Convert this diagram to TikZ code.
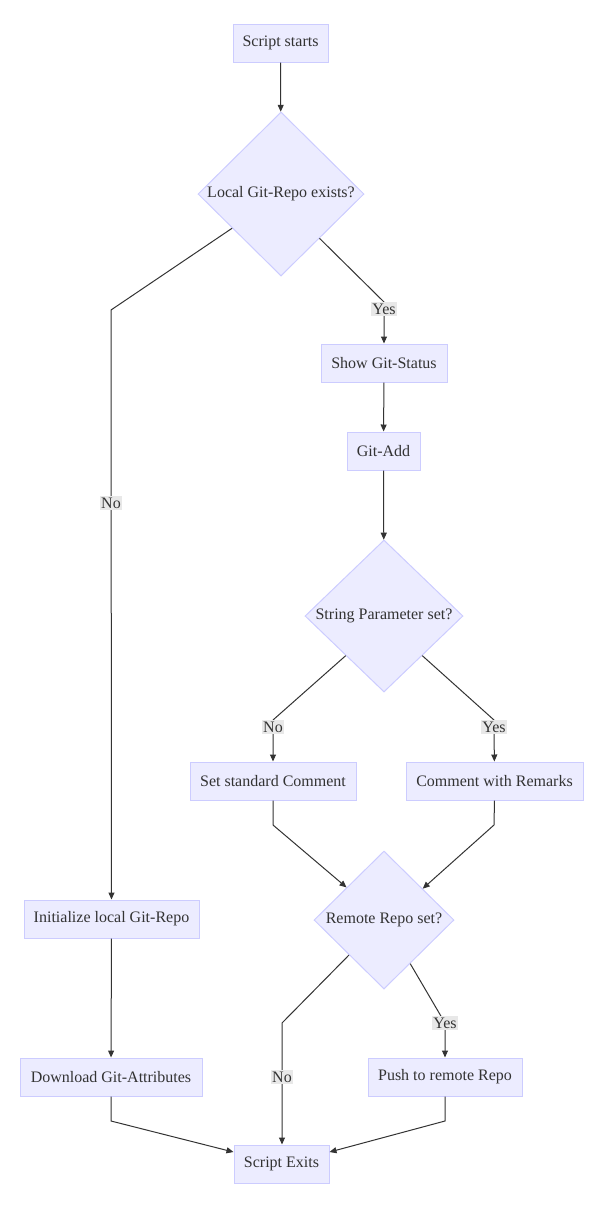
\documentclass[tikz,border=0pt]{standalone}
\usepackage{fontspec}
\setmainfont{Liberation Serif}
\usetikzlibrary{shapes.geometric,arrows.meta}
\definecolor{nodefill}{HTML}{ECECFF}
\definecolor{nodeline}{HTML}{CCCCFF}
\definecolor{txt}{HTML}{333333}
\definecolor{lblbg}{HTML}{E8E8E8}
\tikzset{
  box/.style={draw=nodeline, fill=nodefill, line width=1pt, rectangle, inner sep=0pt,
    minimum height=38pt, text=txt, font=\fontsize{16}{19}\selectfont},
  dia/.style={draw=nodeline, fill=nodefill, line width=1pt, diamond, inner sep=0pt,
    text=txt, font=\fontsize{16}{19}\selectfont},
  lbl/.style={fill=lblbg, inner sep=1.5pt, text=txt, font=\fontsize{16}{19}\selectfont},
  conn/.style={draw=txt, line width=1pt, -{Triangle[length=7pt,width=6pt]}},
  plain/.style={draw=txt, line width=1pt}
}
\begin{document}
\begin{tikzpicture}[x=1pt,y=-1pt]
\useasboundingbox (0,0) rectangle (611,1211);
% nodes
\node[box, minimum width=95pt] (start) at (280.5,43) {Script starts};
\node[dia, minimum width=166pt, minimum height=164pt] (d1) at (281,194) {Local Git-Repo exists?};
\node[box, minimum width=126pt] (show) at (384,363) {Show Git-Status};
\node[box, minimum width=73pt] (add) at (383.5,451) {Git-Add};
\node[dia, minimum width=158pt, minimum height=152pt] (d2) at (384,616) {String Parameter set?};
\node[box, minimum width=166pt] (setc) at (273,781) {Set standard Comment};
\node[box, minimum width=177pt] (rem) at (494.5,781) {Comment with Remarks};
\node[dia, minimum width=140pt, minimum height=138pt] (d3) at (384,920) {Remote Repo set?};
\node[box, minimum width=154pt] (push) at (445,1077) {Push to remote Repo};
\node[box, minimum width=175pt] (init) at (111.5,919) {Initialize local Git-Repo};
\node[box, minimum width=182pt] (dl) at (111,1077) {Download Git-Attributes};
\node[box, minimum width=95pt] (exit) at (281.5,1164) {Script Exits};
% bend points
\coordinate (b1no) at (111,310);
\coordinate (b1yes) at (384,302);
\coordinate (b2no) at (273,720);
\coordinate (b2yes) at (494,720);
\coordinate (bset) at (273,825);
\coordinate (brem) at (494,825);
\coordinate (b3no) at (282,1023);
\coordinate (b3yes) at (445,1023);
\coordinate (bdl) at (111,1121);
\coordinate (bpush) at (445,1121);
% connectors
\draw[conn] (start) -- (d1);
\draw[conn] (d1.215) -- (b1no) -- (init);
\draw[conn] (d1.311) -- (b1yes) -- (show);
\draw[conn] (show) -- (add);
\draw[conn] (add) -- (d2);
\draw[conn] (d2.226) -- (b2no) -- (setc);
\draw[conn] (d2.314) -- (b2yes) -- (rem);
\draw[conn] (setc.south) -- (bset) -- (d3.139);
\draw[conn] (rem.south) -- (brem) -- (d3.39);
\draw[conn] (d3.225) -- (b3no) -- (b3no |- exit.north);
\draw[conn] (d3.301) -- (b3yes) -- (push);
\draw[conn] (init) -- (dl);
\draw[conn] (dl.south) -- (bdl) -- (exit.166);
\draw[conn] (push.south) -- (bpush) -- (exit.14);
% labels
\node[lbl] (l1no) at (111,503) {No};
\node[lbl] (l1yes) at (384,309) {Yes};
\node[lbl] (l2no) at (273,727) {No};
\node[lbl] (l2yes) at (494,727) {Yes};
\node[lbl] (l3no) at (282,1077) {No};
\node[lbl] (l3yes) at (445,1023) {Yes};
\end{tikzpicture}
\end{document}
